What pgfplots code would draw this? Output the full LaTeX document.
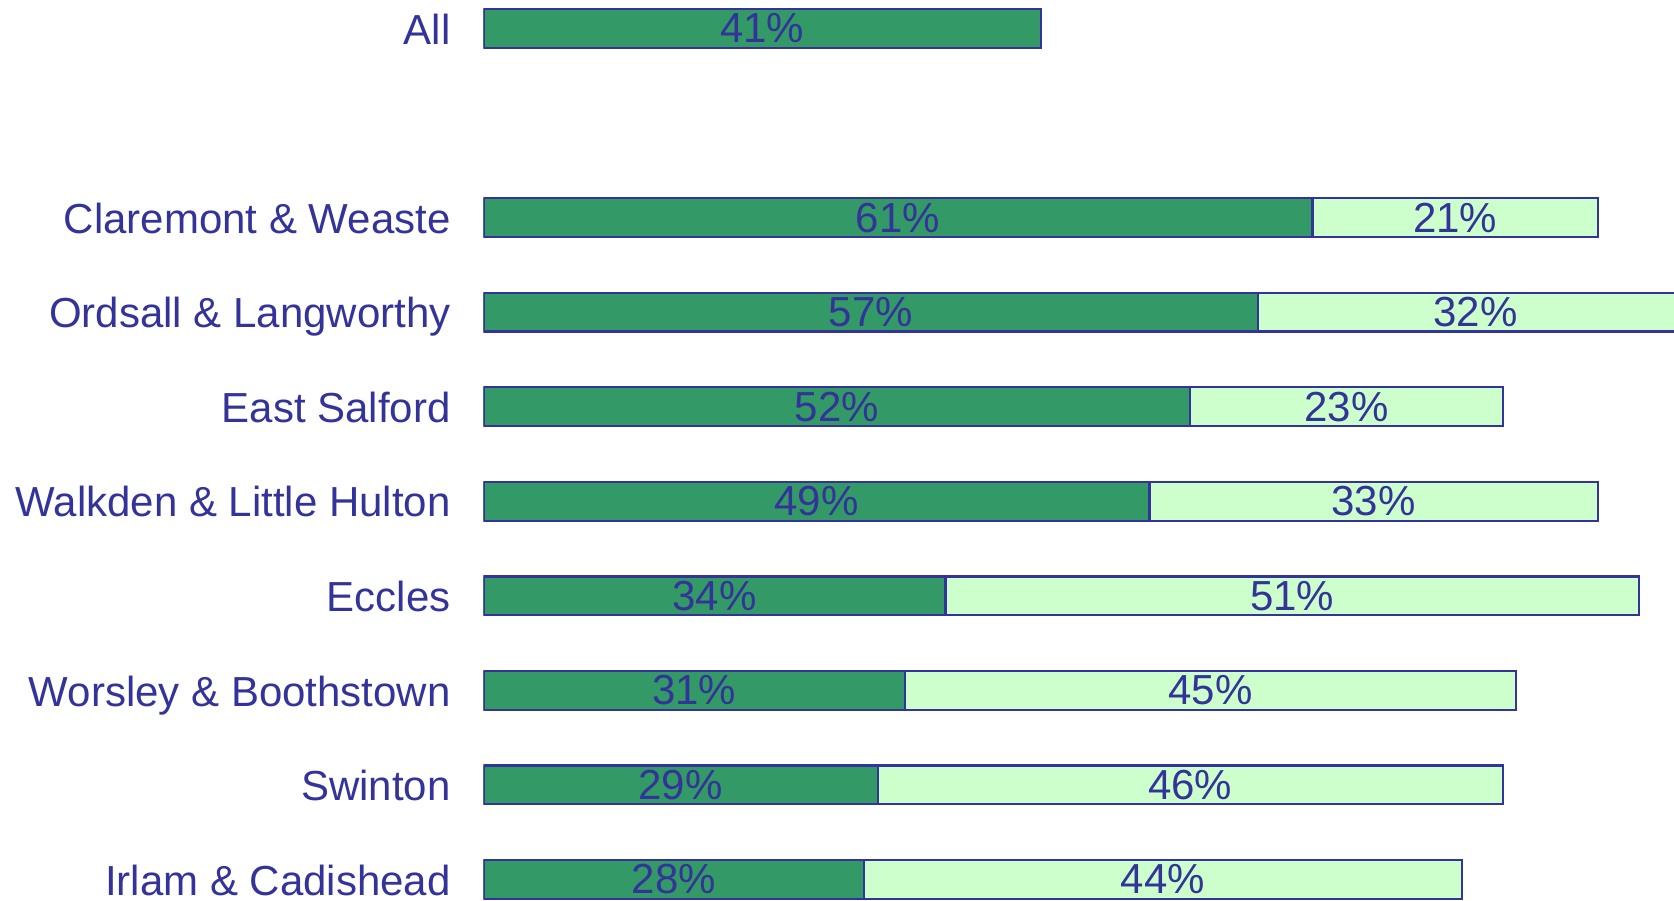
\documentclass[border=0pt]{standalone}
\usepackage{fontspec}
\setmainfont{Liberation Sans}
\usepackage{pgfplots}
\pgfplotsset{compat=1.18}
\definecolor{txtblue}{RGB}{51,51,153}
\definecolor{dkgreen}{RGB}{51,153,102}
\definecolor{ltgreen}{RGB}{204,255,204}
\begin{document}
\begin{tikzpicture}
\pgfplotsset{common/.style={
  scale only axis, width=595.25pt, height=450.5pt,
  xmin=0, xmax=87.6, ymin=-0.227, ymax=9.302,
  axis line style={draw=none}, tick style={draw=none},
  xtick=\empty,
}}
\begin{axis}[common, name=main,
  xbar stacked, bar width=0.41,
  ytick={0,1,2,3,4,5,6,7,9},
  yticklabels={Irlam \& Cadishead, Swinton, Worsley \& Boothstown, Eccles, Walkden \& Little Hulton, East Salford, Ordsall \& Langworthy, Claremont \& Weaste, All},
  yticklabel style={font=\fontsize{21}{25}\selectfont, text=txtblue, inner sep=0pt, anchor=base east, xshift=-16.25pt, yshift=-7.8pt},
]
\addplot[fill=dkgreen, draw=txtblue, line width=1.1pt] coordinates {
  (41,9) (61,7) (57,6) (52,5) (49,4) (34,3) (31,2) (29,1) (28,0)};
\addplot[fill=ltgreen, draw=txtblue, line width=1.1pt] coordinates {
  (0,9) (21,7) (32,6) (23,5) (33,4) (51,3) (45,2) (46,1) (44,0)};
\end{axis}
\begin{axis}[common, ytick=\empty, clip=false]
\addplot[draw=none, mark=none, nodes near coords, point meta=explicit symbolic,
  every node near coord/.append style={anchor=center, font=\fontsize{21}{25}\selectfont, text=txtblue, inner sep=0pt}]
coordinates {
  (20.5,9) [41\%]
  (30.5,7) [61\%] (71.5,7) [21\%]
  (28.5,6) [57\%] (73,6) [32\%]
  (26,5) [52\%] (63.5,5) [23\%]
  (24.5,4) [49\%] (65.5,4) [33\%]
  (17,3) [34\%] (59.5,3) [51\%]
  (15.5,2) [31\%] (53.5,2) [45\%]
  (14.5,1) [29\%] (52,1) [46\%]
  (14,0) [28\%] (50,0) [44\%]
};
\end{axis}
\pgfresetboundingbox
\path[use as bounding box] ([xshift=-241.75pt]main.south west) rectangle (main.north east);
\end{tikzpicture}
\end{document}
